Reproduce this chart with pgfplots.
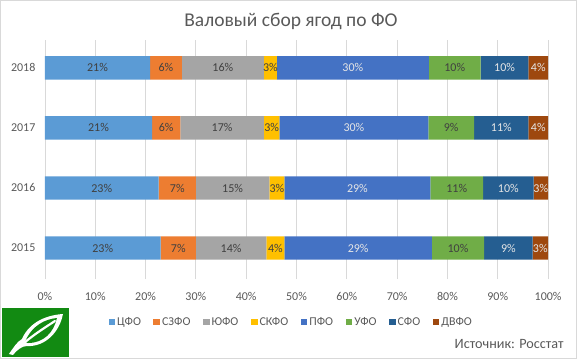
\documentclass[border=0pt]{standalone}
\usepackage{fontspec}
\setmainfont{Carlito}
\usepackage{pgfplots}
\usepackage{pgfplotstable}
\pgfplotsset{compat=1.18}
\definecolor{cCFO}{HTML}{5B9BD5}
\definecolor{cSZFO}{HTML}{ED7D31}
\definecolor{cUFO}{HTML}{A5A5A5}
\definecolor{cSKFO}{HTML}{FFC000}
\definecolor{cPFO}{HTML}{4472C4}
\definecolor{cURFO}{HTML}{70AD47}
\definecolor{cSFO}{HTML}{255E91}
\definecolor{cDVFO}{HTML}{9E480E}
\definecolor{txt}{HTML}{595959}
\definecolor{lbldark}{HTML}{404040}
\definecolor{lbllight}{HTML}{E6E6E6}
\definecolor{gridc}{HTML}{D9D9D9}
\definecolor{logog}{HTML}{128A12}
% shares (%) by year: 0=2015 ... 3=2018
\pgfplotstableread{
idx c1 c2 c3 c4 c5 c6 c7 c8
0 23.0 7.0 14.0 3.6 29.3 10.4 9.6 3.1
1 22.6 7.4 14.6 3.0 29.0 10.5 10.0 2.9
2 21.3 5.6 16.6 3.1 29.6 9.1 10.8 3.9
3 20.9 6.3 16.3 2.6 30.2 10.3 9.5 3.9
}\data
% label positions (segment centres) and label texts
\pgfplotstableread{
idx m1 m2 m3 m4 m5 m6 m7 m8 l1 l2 l3 l4 l5 l6 l7 l8
0 11.5 26.5 37.0 45.8 62.25 82.1 92.1 98.45 23\% 7\% 14\% 4\% 29\% 10\% 9\% 3\%
1 11.3 26.3 37.3 46.1 62.1 81.85 92.1 98.55 23\% 7\% 15\% 3\% 29\% 11\% 10\% 3\%
2 10.65 24.1 35.2 45.05 61.4 80.75 90.7 98.05 21\% 6\% 17\% 3\% 30\% 9\% 11\% 4\%
3 10.45 24.05 35.35 44.8 61.2 81.45 91.35 98.05 21\% 6\% 16\% 3\% 30\% 10\% 10\% 4\%
}\labels
\pgfplotsset{
  lbl/.style={only marks, mark=none, nodes near coords, point meta=explicit symbolic,
    every node near coord/.style={anchor=center, text=#1, inner sep=0pt,
      font=\fontsize{12bp}{14bp}\selectfont}},
  frame/.style={at={(45bp,80bp)}, anchor=south west,
    scale only axis, width=503bp, height=239bp,
    xmin=0, xmax=100, ymin=-0.517, ymax=3.467},
}
\begin{document}
\begin{tikzpicture}[x=1bp,y=1bp]
\draw[gridc, line width=0.8bp] (0.5,0.5) rectangle (576.5,358.5);
\node[text=txt, font=\fontsize{19.5bp}{23bp}\selectfont] at (291,337) {Валовый сбор ягод по ФО};
\begin{axis}[
  frame,
  xbar stacked, bar width=23.4bp,
  xtick={0,10,...,100},
  xticklabel={\pgfmathprintnumber{\tick}\%},
  ytick={0,1,2,3}, yticklabels={2015,2016,2017,2018},
  xmajorgrids, major grid style={gridc, line width=0.8bp},
  axis line style={draw=none}, major tick length=0pt,
  tick label style={text=txt, font=\fontsize{12bp}{14bp}\selectfont},
  xticklabel style={yshift=-10bp},
  yticklabel style={xshift=-6bp},
  /pgf/number format/assume math mode=true,
  legend style={at={(0.4895,-0.18)}, anchor=center, draw=none, fill=none,
    legend columns=-1, font=\fontsize{12bp}{14bp}\selectfont, text=txt,
    /tikz/every even column/.append style={column sep=10.5bp}},
  legend image code/.code={\fill[#1] (0bp,-3.3bp) rectangle (6.6bp,3.3bp);},
]
\addplot[fill=cCFO, draw=none] table[x=c1, y=idx] {\data};
\addplot[fill=cSZFO, draw=none] table[x=c2, y=idx] {\data};
\addplot[fill=cUFO, draw=none] table[x=c3, y=idx] {\data};
\addplot[fill=cSKFO, draw=none] table[x=c4, y=idx] {\data};
\addplot[fill=cPFO, draw=none] table[x=c5, y=idx] {\data};
\addplot[fill=cURFO, draw=none] table[x=c6, y=idx] {\data};
\addplot[fill=cSFO, draw=none] table[x=c7, y=idx] {\data};
\addplot[fill=cDVFO, draw=none] table[x=c8, y=idx] {\data};
\legend{ЦФО,СЗФО,ЮФО,СКФО,ПФО,УФО,СФО,ДВФО}
\end{axis}
\begin{axis}[frame, hide axis]
\addplot[lbl=lbldark] table[x=m1, y=idx, meta=l1] {\labels};
\addplot[lbl=lbldark] table[x=m2, y=idx, meta=l2] {\labels};
\addplot[lbl=lbldark] table[x=m3, y=idx, meta=l3] {\labels};
\addplot[lbl=lbldark] table[x=m4, y=idx, meta=l4] {\labels};
\addplot[lbl=lbllight] table[x=m5, y=idx, meta=l5] {\labels};
\addplot[lbl=lbldark] table[x=m6, y=idx, meta=l6] {\labels};
\addplot[lbl=lbllight] table[x=m7, y=idx, meta=l7] {\labels};
\addplot[lbl=lbllight] table[x=m8, y=idx, meta=l8] {\labels};
\end{axis}
\node[anchor=east, text=txt, font=\fontsize{14.2bp}{17bp}\selectfont] at (567,15) {Источник: Росстат};
% logo
\fill[logog] (2,2) rectangle (69,51);
\fill[white] (9,5) .. controls (14,12) and (17,17) .. (22,20)
  .. controls (30,38) and (48,44) .. (63,45)
  .. controls (60,28) and (46,12) .. (27,13)
  .. controls (22,13) and (17,9) .. (13,4) -- cycle;
\fill[logog] (25,17) .. controls (32,34) and (46,40) .. (57,41)
  .. controls (54,27) and (44,16) .. (28,16) -- cycle;
\draw[white, line width=2.2bp, line cap=round] (24,16) .. controls (36,26) and (46,32) .. (55,38);
\end{tikzpicture}
\end{document}
